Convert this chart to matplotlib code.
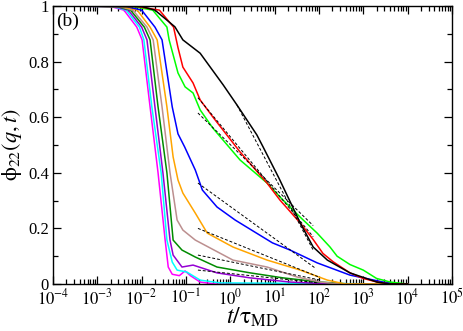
import matplotlib
matplotlib.use("Agg")
import matplotlib.pyplot as plt
import numpy as np
from matplotlib.ticker import LogLocator, NullFormatter, MultipleLocator, FixedLocator, FixedFormatter

plt.rcParams["font.family"] = ["Liberation Serif", "DejaVu Serif"]
plt.rcParams["mathtext.fontset"] = "stix"

# ── data: log10(t/tau_MD) and phi_22(q,t) ─────────────────────────────────────
black_lt  = [-4, -2.0, -1.7, -1.25, -1.07, -0.68, -0.16, 0.15, 0.6, 0.74, 1.1, 1.58, 1.87, 2.19, 2.7, 3.31, 3.6, 4.0]
black_phi = [1, 0.998, 0.985, 0.925, 0.878, 0.83, 0.716, 0.644, 0.536, 0.493, 0.38, 0.219, 0.133, 0.086, 0.04, 0.007, 0, 0]

red_lt  = [-4, -2.1, -1.6, -1.28, -1.18, -1.07, -0.84, -0.68, -0.39, 0.22, 0.83, 1.12, 1.58, 1.87, 2.09, 2.32, 2.7, 3.0, 3.31, 3.6, 4.0]
red_phi = [1, 0.998, 0.985, 0.924, 0.85, 0.78, 0.723, 0.662, 0.6, 0.475, 0.363, 0.302, 0.219, 0.16, 0.11, 0.08, 0.04, 0.02, 0.007, 0, 0]

green_lt  = [-4, -2.2, -1.75, -1.43, -1.38, -1.18, -1.02, -0.84, -0.68, -0.39, 0.22, 0.83, 1.12, 1.58, 1.96, 2.25, 2.41, 2.7, 3.0, 3.3, 3.61, 4.0]
green_phi = [1, 0.998, 0.985, 0.924, 0.878, 0.759, 0.709, 0.687, 0.626, 0.56, 0.446, 0.363, 0.313, 0.24, 0.183, 0.133, 0.10, 0.07, 0.05, 0.02, 0.007, 0]

blue_lt  = [-4, -2.35, -2.0, -1.70, -1.54, -1.31, -1.18, -1.03, -0.79, -0.63, -0.30, 0.11, 0.95, 1.35, 1.96, 2.70, 3.45, 3.8, 4.0]
blue_phi = [1, 0.998, 0.985, 0.924, 0.878, 0.637, 0.54, 0.493, 0.41, 0.338, 0.277, 0.23, 0.148, 0.122, 0.076, 0.032, 0.007, 0, 0]

orange_lt  = [-4, -2.45, -2.1, -1.81, -1.65, -1.43, -1.29, -1.18, -1.07, -0.79, -0.52, 0.06, 0.83, 1.58, 2.19, 2.59, 4.0]
orange_phi = [1, 0.998, 0.985, 0.924, 0.878, 0.637, 0.457, 0.374, 0.327, 0.255, 0.183, 0.133, 0.086, 0.05, 0.014, 0, 0]

rosy_lt  = [-4, -2.5, -2.2, -1.88, -1.74, -1.54, -1.36, -1.20, -1.07, -0.79, 0.06, 0.83, 1.51, 2.03, 2.48, 4.0]
rosy_phi = [1, 0.998, 0.985, 0.924, 0.878, 0.637, 0.40, 0.23, 0.194, 0.158, 0.086, 0.061, 0.025, 0.007, 0, 0]

dkgreen_lt  = [-4, -2.55, -2.25, -1.94, -1.81, -1.63, -1.43, -1.29, -1.09, -0.79, -0.30, 0.45, 1.19, 2.03, 2.7, 4.0]
dkgreen_phi = [1, 0.998, 0.985, 0.924, 0.878, 0.637, 0.40, 0.158, 0.122, 0.097, 0.061, 0.04, 0.022, 0.007, 0, 0]

purple_lt  = [-4, -2.6, -2.3, -2.0, -1.88, -1.70, -1.52, -1.36, -1.29, -1.09, -0.84, -0.30, 0.45, 1.35, 2.25, 4.0]
purple_phi = [1, 0.998, 0.985, 0.924, 0.878, 0.637, 0.40, 0.158, 0.104, 0.061, 0.068, 0.04, 0.022, 0.007, 0, 0]

cyan_lt  = [-4, -2.65, -2.35, -2.05, -1.95, -1.77, -1.56, -1.43, -1.31, -1.20, -0.98, -0.68, -0.23, 4.0]
cyan_phi = [1, 0.998, 0.985, 0.924, 0.878, 0.637, 0.40, 0.158, 0.079, 0.05, 0.043, 0.014, 0.004, 0]

magenta_lt  = [-4, -2.7, -2.4, -2.11, -1.99, -1.81, -1.63, -1.47, -1.40, -1.31, -1.15, -1.02, -0.9, -0.68, -0.34, 4.0]
magenta_phi = [1, 0.998, 0.985, 0.924, 0.878, 0.637, 0.40, 0.158, 0.061, 0.035, 0.03, 0.047, 0.03, 0.007, 0, 0]

# straight fits in log t (dashed), endpoints (log10 t, phi)
fit_lt  = [[0.15, 1.87], [-0.73, 1.87], [-0.73, 1.87], [-0.73, 1.91], [-0.73, 2.0], [-0.73, 2.0], [-0.73, 2.0]]
fit_phi = [[0.644, 0.122], [0.67, 0.17], [0.615, 0.21], [0.363, 0.058], [0.2, 0.025], [0.104, 0.015], [0.05, 0.004]]

y_ticks  = [0, 0.2, 0.4, 0.6, 0.8, 1.0]
y_labels = ["0", "0.2", "0.4", "0.6", "0.8", "1"]
x_exps   = list(range(-4, 6))

curves = [
    (black_lt, black_phi, "black"),
    (red_lt, red_phi, "#ff0000"),
    (green_lt, green_phi, "#00ff00"),
    (blue_lt, blue_phi, "#0000ff"),
    (orange_lt, orange_phi, "#ffa500"),
    (rosy_lt, rosy_phi, "#bc8f8f"),
    (dkgreen_lt, dkgreen_phi, "#008b00"),
    (purple_lt, purple_phi, "#9400d3"),
    (cyan_lt, cyan_phi, "#00ffff"),
    (magenta_lt, magenta_phi, "#ff00ff"),
]

fig = plt.figure(figsize=(4.63, 3.31), dpi=100)
ax = fig.add_axes([0.1145, 0.142, 0.8615, 0.840])

for lt, phi, col in reversed(curves):
    ax.plot(10 ** np.array(lt), phi, color=col, lw=1.1)

for lt, phi in zip(fit_lt, fit_phi):
    ax.plot(10 ** np.array(lt), phi, color="black", lw=0.7, ls=(0, (3, 2)))

ax.set_xscale("log")
ax.set_xlim(1e-4, 1e5)
ax.set_ylim(0, 1)

ax.xaxis.set_major_locator(FixedLocator([10.0 ** k for k in x_exps]))
ax.xaxis.set_major_formatter(FixedFormatter([r"$10^{%d}$" % k for k in x_exps]))
ax.xaxis.set_minor_locator(LogLocator(base=10, subs=np.arange(2, 10), numticks=20))
ax.xaxis.set_minor_formatter(NullFormatter())
ax.yaxis.set_major_locator(FixedLocator(y_ticks))
ax.yaxis.set_major_formatter(FixedFormatter(y_labels))
ax.yaxis.set_minor_locator(MultipleLocator(0.1))

ax.tick_params(which="both", direction="in", top=True, right=True, labelsize=12, width=0.9)
ax.tick_params(which="major", length=6, pad=3)
ax.tick_params(which="minor", length=3.5)
for s in ax.spines.values():
    s.set_linewidth(1.0)

ax.set_xlabel(r"$t/\mathrm{\tau}_{\rm MD}$", fontsize=17)
ax.xaxis.set_label_coords(0.5, -0.078)
ax.set_ylabel(r"$\mathrm{\phi}_{22}(q,t)$", fontsize=16)
ax.yaxis.set_label_coords(-0.072, 0.5)
ax.text(0.008, 0.975, "(b)", transform=ax.transAxes, ha="left", va="top", fontsize=14)

fig.savefig("out.png", dpi=100)
